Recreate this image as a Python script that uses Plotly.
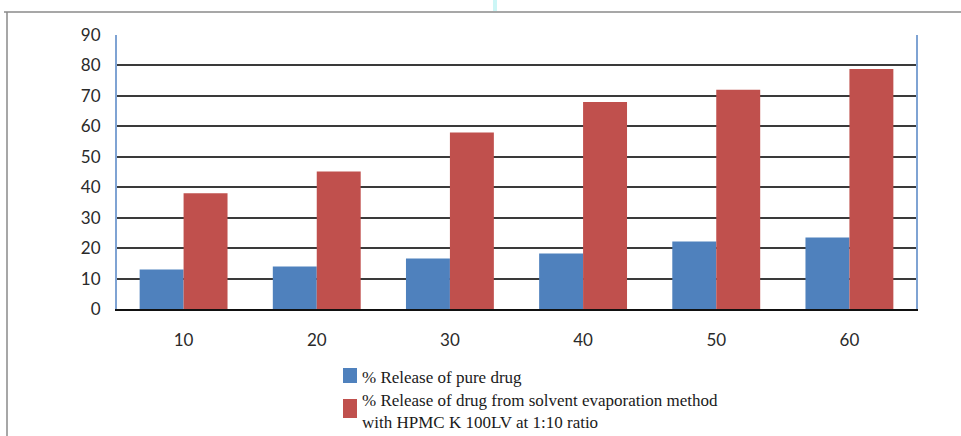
import plotly.graph_objects as go

# Dissolution time points (min) and cumulative % drug release
time_points = ["10", "20", "30", "40", "50", "60"]
pure_drug = [13, 14, 16.6, 18.2, 22.2, 23.5]
solid_dispersion = [38, 45.2, 58, 68, 72, 78.8]

series_names = [
    "% Release of pure drug",
    "% Release of drug from solvent evaporation method<br>with HPMC K 100LV at 1:10 ratio",
]
series_colors = ["#4F81BD", "#C0504D"]
y_ticks = [0, 10, 20, 30, 40, 50, 60, 70, 80, 90]

W, H = 961, 436
ML, MR, MT, MB = 117, 45, 35, 127
PW, PH = W - ML - MR, H - MT - MB


def px_x(x):
    """Pixel column -> paper x."""
    return (x - ML) / PW


def px_y(y):
    """Pixel row -> paper y."""
    return (H - MB - y) / PH


fig = go.Figure()
for name, vals, col in zip(series_names, [pure_drug, solid_dispersion], series_colors):
    fig.add_trace(go.Bar(
        x=time_points, y=vals, name=name,
        marker=dict(color=col, line=dict(width=0)),
        showlegend=False,
    ))

tick_font = dict(family="Lato", size=17, color="#2a2a2a")

fig.update_layout(
    width=W, height=H,
    margin=dict(l=ML, r=MR, t=MT, b=MB),
    paper_bgcolor="white", plot_bgcolor="white",
    barmode="group", bargap=0.34, bargroupgap=0,
    showlegend=False,
    font=tick_font,
)

fig.update_xaxes(
    type="category",
    showgrid=False,
    showline=True, linecolor="#111", linewidth=1.5,
    ticks="", ticklabelstandoff=15,
    tickfont=tick_font,
)
fig.update_yaxes(
    range=[0, 90], tickvals=y_ticks,
    showgrid=True, gridcolor="#3a3a3a", gridwidth=1.6,
    showline=True, linecolor="#7FA3D3", linewidth=2, mirror=True,
    zeroline=False,
    ticks="", ticklabelstandoff=11,
    tickfont=tick_font,
)

# Legend: colour keys and labels below the axis
legend_keys = [(368, 383), (399, 418)]
legend_text_y = [377, 411]
for (y0, y1), ty, name, col in zip(legend_keys, legend_text_y, series_names, series_colors):
    fig.add_shape(type="rect", xref="paper", yref="paper",
                  x0=px_x(343), x1=px_x(357), y0=px_y(y1), y1=px_y(y0),
                  line=dict(width=0), fillcolor=col)
    fig.add_annotation(xref="paper", yref="paper", x=px_x(360), y=px_y(ty),
                       xanchor="left", yanchor="middle", align="left",
                       text=name, showarrow=False,
                       font=dict(family="Liberation Serif", size=17, color="#1a1a1a"))

# Outer frame lines (top and left edges of the chart container)
fig.add_shape(type="line", xref="paper", yref="paper",
              x0=px_x(4), x1=px_x(961), y0=px_y(12), y1=px_y(12),
              line=dict(color="#8a8a8a", width=1.5), layer="below")
fig.add_shape(type="line", xref="paper", yref="paper",
              x0=px_x(7), x1=px_x(7), y0=px_y(12), y1=px_y(436),
              line=dict(color="#8a8a8a", width=1.5), layer="below")
# Small cyan mark at the top edge
fig.add_shape(type="rect", xref="paper", yref="paper",
              x0=px_x(493), x1=px_x(497), y0=px_y(11), y1=px_y(0),
              line=dict(width=0), fillcolor="rgba(170,240,240,0.6)", layer="below")

fig.write_html("out.html")
